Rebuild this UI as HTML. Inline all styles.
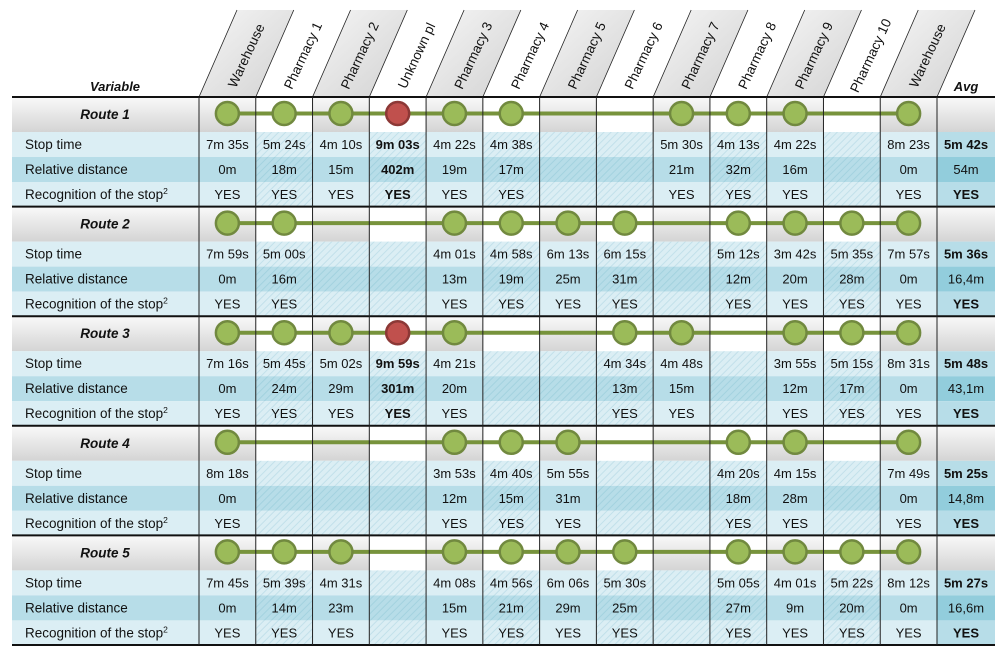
<!DOCTYPE html>
<html><head><meta charset="utf-8"><style>
html,body{margin:0;padding:0;background:#fff;}
svg{display:block;font-family:"Liberation Sans",sans-serif;}
</style></head><body>
<svg id="chart" width="1000" height="654" viewBox="0 0 1000 654" xmlns="http://www.w3.org/2000/svg">
<defs>
<linearGradient id="gray" x1="0" y1="0" x2="0" y2="1"><stop offset="0" stop-color="#f9f9f9"/><stop offset="1" stop-color="#d4d4d4"/></linearGradient>
<linearGradient id="hgray" x1="0" y1="0" x2="1" y2="1"><stop offset="0" stop-color="#f6f6f6"/><stop offset="1" stop-color="#d2d2d2"/></linearGradient>
<pattern id="hatchL" width="5" height="5" patternUnits="userSpaceOnUse" patternTransform="rotate(45)"><rect width="5" height="5" fill="#dbeef4"/><line x1="0" y1="0" x2="0" y2="5" stroke="#c2e0ea" stroke-width="2"/></pattern>
<pattern id="hatchM" width="5" height="5" patternUnits="userSpaceOnUse" patternTransform="rotate(45)"><rect width="5" height="5" fill="#b7dde8"/><line x1="0" y1="0" x2="0" y2="5" stroke="#a3d2df" stroke-width="2"/></pattern>
</defs>
</svg>
<script>
const columns = ["Warehouse","Pharmacy 1","Pharmacy 2","Unknown pl","Pharmacy 3","Pharmacy 4","Pharmacy 5","Pharmacy 6","Pharmacy 7","Pharmacy 8","Pharmacy 9","Pharmacy 10","Warehouse"];
const routes = ["Route 1","Route 2","Route 3","Route 4","Route 5"];
// stop markers: 1 = visited, 2 = unknown place, 0 = none
const stops1 = [1,1,1,2,1,1,0,0,1,1,1,0,1];
const stops2 = [1,1,0,0,1,1,1,1,0,1,1,1,1];
const stops3 = [1,1,1,2,1,0,0,1,1,0,1,1,1];
const stops4 = [1,0,0,0,1,1,1,0,0,1,1,0,1];
const stops5 = [1,1,1,0,1,1,1,1,0,1,1,1,1];
const time1 = ["7m 35s","5m 24s","4m 10s","9m 03s","4m 22s","4m 38s","","","5m 30s","4m 13s","4m 22s","","8m 23s"];
const time2 = ["7m 59s","5m 00s","","","4m 01s","4m 58s","6m 13s","6m 15s","","5m 12s","3m 42s","5m 35s","7m 57s"];
const time3 = ["7m 16s","5m 45s","5m 02s","9m 59s","4m 21s","","","4m 34s","4m 48s","","3m 55s","5m 15s","8m 31s"];
const time4 = ["8m 18s","","","","3m 53s","4m 40s","5m 55s","","","4m 20s","4m 15s","","7m 49s"];
const time5 = ["7m 45s","5m 39s","4m 31s","","4m 08s","4m 56s","6m 06s","5m 30s","","5m 05s","4m 01s","5m 22s","8m 12s"];
const dist1 = ["0m","18m","15m","402m","19m","17m","","","21m","32m","16m","","0m"];
const dist2 = ["0m","16m","","","13m","19m","25m","31m","","12m","20m","28m","0m"];
const dist3 = ["0m","24m","29m","301m","20m","","","13m","15m","","12m","17m","0m"];
const dist4 = ["0m","","","","12m","15m","31m","","","18m","28m","","0m"];
const dist5 = ["0m","14m","23m","","15m","21m","29m","25m","","27m","9m","20m","0m"];
const avgTime = ["5m 42s","5m 36s","5m 48s","5m 25s","5m 27s"];
const avgDist = ["54m","16,4m","43,1m","14,8m","16,6m"];

const S=document.getElementById('chart'),NS="http://www.w3.org/2000/svg";
function mk(t,a,p){const e=document.createElementNS(NS,t);for(const k in a)e.setAttribute(k,a[k]);(p||S).appendChild(e);return e;}
const X0=199,CW=(937-199)/13,AVX=937,AVW=58,LX=12,TOP=97,BH=109.6,RH=35,DH=25;
const colX=i=>X0+i*CW;
const allStops=[stops1,stops2,stops3,stops4,stops5],allT=[time1,time2,time3,time4,time5],allD=[dist1,dist2,dist3,dist4,dist5];
let t=mk('text',{x:115,y:91,'text-anchor':'middle','font-size':13,'font-weight':'bold','font-style':'italic',fill:'#111'});t.textContent='Variable';

const SK=38,HT=10;
columns.forEach((c,i)=>{const x=colX(i);
 const p=mk('polygon',{points:`${x},${TOP} ${x+CW},${TOP} ${x+CW+SK},${HT} ${x+SK},${HT}`,fill:i%2==0?'url(#hgray)':'#fff',stroke:'none'});
 
 mk('line',{x1:x,y1:TOP,x2:x+SK,y2:HT,stroke:'#222','stroke-width':0.8});
 const cx=x+CW/2+SK/2+4,cy=(TOP+HT)/2+4;
 const tx=mk('text',{x:cx,y:cy,'text-anchor':'middle','font-size':13.5,fill:'#111',transform:`rotate(-65 ${cx} ${cy})`});tx.textContent=c;
 
});
mk('line',{x1:AVX,y1:TOP,x2:AVX+SK,y2:HT,stroke:'#222','stroke-width':0.8});
t=mk('text',{x:966,y:91,'text-anchor':'middle','font-size':13,'font-weight':'bold','font-style':'italic',fill:'#111'});t.textContent='Avg';

routes.forEach((r,ri)=>{
 const y=TOP+ri*BH, st=allStops[ri];
 const g=mk('g',{});
 mk('rect',{x:LX,y:y,width:X0-LX,height:RH,fill:'url(#gray)'},g);
 columns.forEach((c,i)=>mk('rect',{x:colX(i),y:y,width:CW,height:RH,fill:i%2==0?'url(#gray)':'#fff'},g));
 mk('rect',{x:AVX,y:y,width:AVW,height:RH,fill:'url(#gray)'},g);
 t=mk('text',{x:105,y:y+22,'text-anchor':'middle','font-size':13.5,'font-weight':'bold','font-style':'italic',fill:'#111'},g);t.textContent=r;
 
 const labels=['Stop time','Relative distance','Recognition of the stop'];
 const rows=[allT[ri],allD[ri],null];
 labels.forEach((lb,k)=>{
  const yy=y+RH+k*DH, mid=k==1;
  mk('rect',{x:LX,y:yy,width:X0-LX,height:DH,fill:mid?'#b7dde8':'#dbeef4'},g);
  const lt=mk('text',{x:25,y:yy+17,'font-size':13.5,fill:'#111'},g);lt.textContent=lb;
  if(k==2){const s=mk('tspan',{dy:-5,'font-size':8.5},lt);s.textContent='2';}
  
  columns.forEach((c,i)=>{
   const has=st[i]>0, hatch=!has||i%2==1;
   mk('rect',{x:colX(i),y:yy,width:CW,height:DH,fill:hatch?(mid?'url(#hatchM)':'url(#hatchL)'):(mid?'#b7dde8':'#dbeef4')},g);
   const v=k==2?(has?'YES':''):rows[k][i];
   if(v){const tx=mk('text',{x:colX(i)+CW/2,y:yy+17,'text-anchor':'middle','font-size':13,fill:'#111','font-weight':st[i]==2?'bold':'normal'},g);tx.textContent=v;
    }
  });
  mk('rect',{x:AVX,y:yy,width:AVW,height:DH,fill:mid?'#92cddc':'#b7dde8'},g);
  const av=k==0?avgTime[ri]:k==1?avgDist[ri]:'YES';
  const at=mk('text',{x:AVX+AVW/2,y:yy+17,'text-anchor':'middle','font-size':13,fill:'#111','font-weight':k==1?'normal':'bold'},g);at.textContent=av;
  
 });
 const idx=st.map((v,i)=>v?i:-1).filter(i=>i>=0);
 const cy=y+RH/2-1;
 const ln=mk('line',{x1:colX(idx[0])+CW/2,y1:cy,x2:colX(idx[idx.length-1])+CW/2,y2:cy,stroke:'#77933c','stroke-width':4},g);
 
 idx.forEach(i=>{const c=mk('circle',{cx:colX(i)+CW/2,cy:cy,r:11.5,fill:st[i]==2?'#c0504d':'#9bbb59',stroke:st[i]==2?'#8c3836':'#71893f','stroke-width':2.5},g);
  });
 mk('line',{x1:LX,y1:y,x2:995,y2:y,stroke:'#111','stroke-width':2},g);
});
mk('line',{x1:LX,y1:TOP+5*BH,x2:995,y2:TOP+5*BH,stroke:'#111','stroke-width':2});
for(let i=0;i<=13;i++){const x=colX(i);mk('line',{x1:x,y1:TOP,x2:x,y2:TOP+5*BH,stroke:'#222','stroke-width':1});}
</script>
</body></html>
